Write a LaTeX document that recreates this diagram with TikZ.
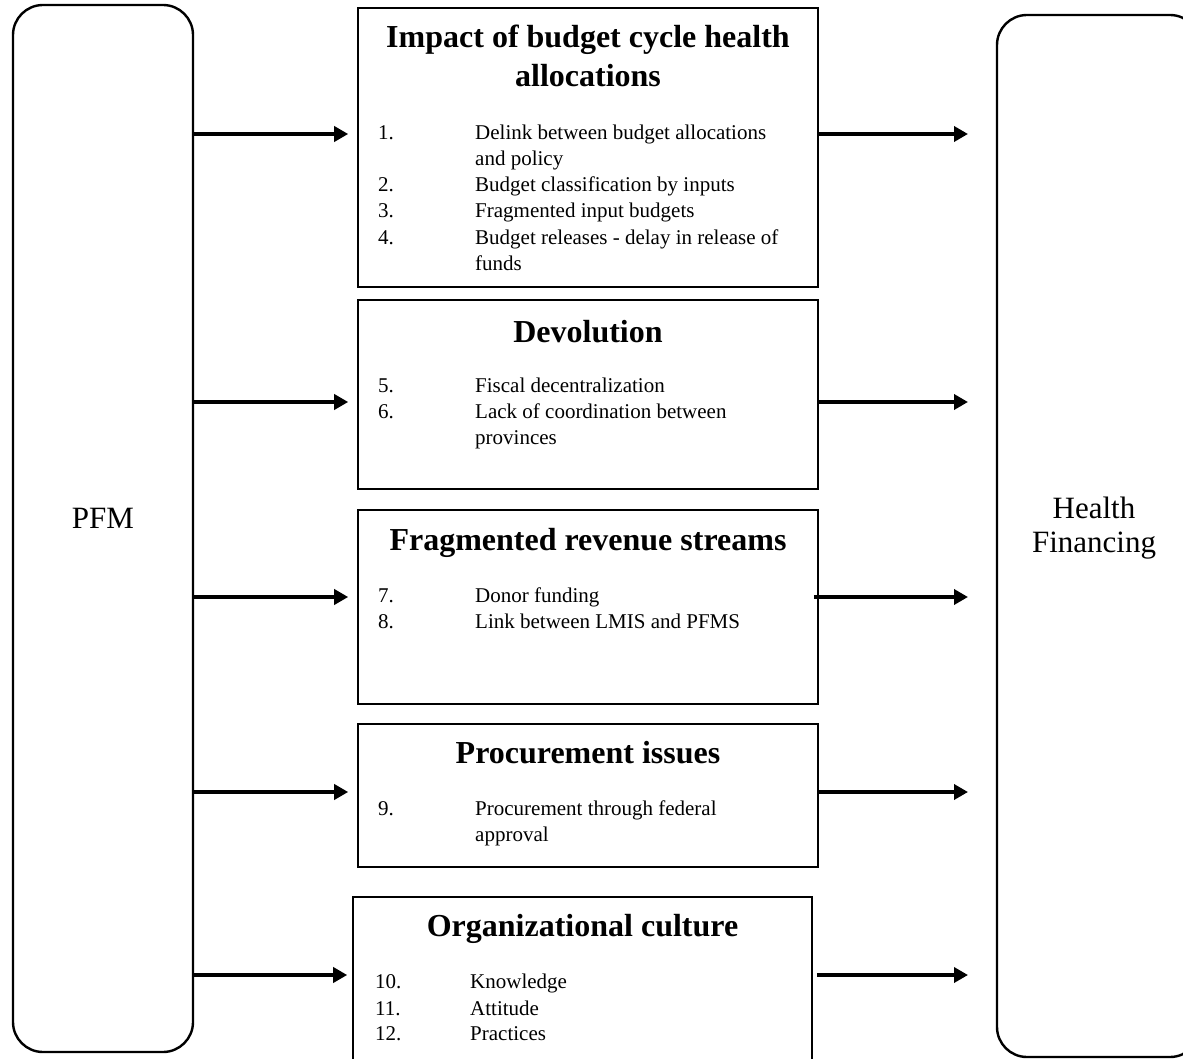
\documentclass[tikz,border=0pt]{standalone}
\usepackage{fontspec}
\setmainfont{Liberation Serif}
\usetikzlibrary{arrows.meta}
\begin{document}
\begin{tikzpicture}[x=1pt,y=-1pt,
  box/.style={draw, line width=1.6pt, rectangle, inner sep=0pt},
  roundbox/.style={draw, line width=2.4pt, rounded corners=30pt, inner sep=0pt},
  arr/.style={line width=3.6pt, -{Triangle[length=14pt,width=15pt]}},
  ttl/.style={font=\fontsize{32}{39}\selectfont\bfseries, anchor=base, inner sep=0pt},
  txt/.style={font=\fontsize{21}{26}\selectfont, anchor=base west, inner sep=0pt},
  big/.style={font=\fontsize{31}{36}\selectfont, anchor=base, inner sep=0pt}]
\useasboundingbox (0,0) rectangle (1183,1059);
\begin{scope}
\clip (0,0) rectangle (1183,1059);
% side boxes
\node[roundbox, minimum width=180pt, minimum height=1047pt] (pfm) at (103,528.5) {};
\node[big] (pfmtxt) at (103,528) {PFM};
\node[roundbox, minimum width=203pt, minimum height=1042pt] (hf) at (1098.5,536) {};
\node[big] (hf1) at (1094,518) {Health};
\node[big] (hf2) at (1094,552) {Financing};
% box 1
\node[box, minimum width=460pt, minimum height=279pt] (b1) at (588,147.5) {};
\node[ttl] (t1a) at (588,48) {Impact of budget cycle health};
\node[ttl] (t1b) at (588,87) {allocations};
\node[txt] (n1) at (378,140) {1.};
\node[txt] (i1a) at (475,140) {Delink between budget allocations};
\node[txt] (i1b) at (475,166) {and policy};
\node[txt] (n2) at (378,192) {2.};
\node[txt] (i2) at (475,192) {Budget classification by inputs};
\node[txt] (n3) at (378,218) {3.};
\node[txt] (i3) at (475,218) {Fragmented input budgets};
\node[txt] (n4) at (378,245) {4.};
\node[txt] (i4a) at (475,245) {Budget releases - delay in release of};
\node[txt] (i4b) at (475,271) {funds};
% box 2
\node[box, minimum width=460pt, minimum height=189pt] (b2) at (588,394.5) {};
\node[ttl] (t2) at (588,342) {Devolution};
\node[txt] (n5) at (378,392) {5.};
\node[txt] (i5) at (475,392) {Fiscal decentralization};
\node[txt] (n6) at (378,418) {6.};
\node[txt] (i6a) at (475,418) {Lack of coordination between};
\node[txt] (i6b) at (475,444) {provinces};
% box 3
\node[box, minimum width=460pt, minimum height=194pt] (b3) at (588,607) {};
\node[ttl] (t3) at (588,550) {Fragmented revenue streams};
\node[txt] (n7) at (378,602) {7.};
\node[txt] (i7) at (475,602) {Donor funding};
\node[txt] (n8) at (378,628) {8.};
\node[txt] (i8) at (475,628) {Link between LMIS and PFMS};
% box 4
\node[box, minimum width=460pt, minimum height=143pt] (b4) at (588,795.5) {};
\node[ttl] (t4) at (588,763) {Procurement issues};
\node[txt] (n9) at (378,815) {9.};
\node[txt] (i9a) at (475,815) {Procurement through federal};
\node[txt] (i9b) at (475,841) {approval};
% box 5
\node[box, minimum width=459pt, minimum height=173pt] (b5) at (582.5,983.5) {};
\node[ttl] (t5) at (582.5,936) {Organizational culture};
\node[txt] (n10) at (375,988) {10.};
\node[txt] (i10) at (470,988) {Knowledge};
\node[txt] (n11) at (375,1015) {11.};
\node[txt] (i11) at (470,1015) {Attitude};
\node[txt] (n12) at (375,1040) {12.};
\node[txt] (i12) at (470,1040) {Practices};
% arrow levels
\coordinate (y1) at (968,134);
\coordinate (y2) at (968,402);
\coordinate (y3) at (968,597);
\coordinate (y4) at (968,792);
\coordinate (y5) at (968,975);
\draw[arr, shorten >=9pt] (pfm.east |- y1) -- (b1.west |- y1);
\draw[arr, shorten >=9pt] (pfm.east |- y2) -- (b2.west |- y2);
\draw[arr, shorten >=9pt] (pfm.east |- y3) -- (b3.west |- y3);
\draw[arr, shorten >=9pt] (pfm.east |- y4) -- (b4.west |- y4);
\draw[arr, shorten >=5pt] (pfm.east |- y5) -- (b5.west |- y5);
\draw[arr] (b1.east |- y1) -- (y1);
\draw[arr] (b2.east |- y2) -- (y2);
\draw[arr] ([xshift=-5pt]b3.east |- y3) -- (y3);
\draw[arr] (b4.east |- y4) -- (y4);
\draw[arr] ([xshift=4pt]b5.east |- y5) -- (y5);
\end{scope}
\end{tikzpicture}
\end{document}
